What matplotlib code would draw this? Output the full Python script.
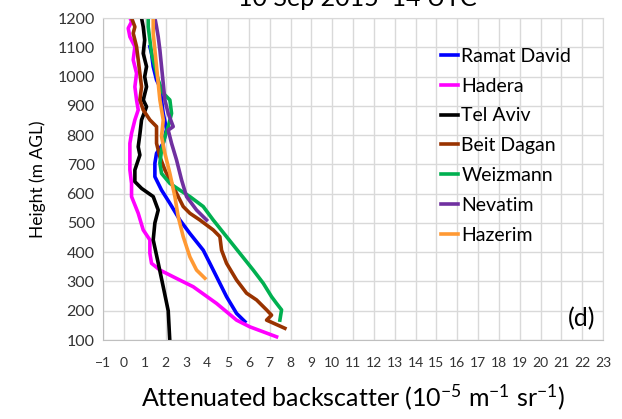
import matplotlib.pyplot as plt

plt.rcParams['font.family'] = ['Lato', 'DejaVu Sans']
plt.rcParams['mathtext.fontset'] = 'custom'
plt.rcParams['mathtext.rm'] = 'Lato'
plt.rcParams['mathtext.it'] = 'Lato'
plt.rcParams['mathtext.bf'] = 'Lato:bold'

# profiles: (backscatter, height)
ramat_x = [5.81, 5.41, 4.93, 4.53, 4.13, 3.81, 3.17, 2.69, 2.21, 1.81, 1.49, 1.49, 1.57, 1.89, 2.05,
           1.89, 1.81, 1.73, 1.57, 1.41, 1.33, 1.25]
ramat_y = [163, 191, 248, 305, 362, 407, 464, 510, 567, 612, 658, 704, 738, 772, 820,
           874, 920, 965, 988, 1034, 1079, 1102]

hadera_x = [7.33, 6.05, 5.41, 4.45, 3.33, 2.37, 1.73, 1.33, 1.25, 1.25, 0.93, 0.69, 0.37, 0.37, 0.29, 0.29,
            0.29, 0.37, 0.53, 0.69, 0.61, 0.53, 0.61, 0.45, 0.53, 0.29, 0.21, 0.37, 0.30]
hadera_y = [111, 145, 168, 225, 282, 316, 339, 362, 396, 442, 476, 533, 590, 635, 681, 726,
            772, 806, 852, 886, 920, 965, 1011, 1057, 1102, 1136, 1165, 1187, 1200]

telaviv_x = [2.2, 2.13, 1.89, 1.65, 1.41, 1.49, 1.65, 1.41, 0.85, 0.53, 0.53, 0.77, 0.69, 0.77,
             0.85, 1.09, 0.93, 1.09, 1.0, 1.09, 0.93, 1.0, 0.93, 0.85]
telaviv_y = [105, 200, 282, 363, 442, 500, 544, 590, 618, 641, 681, 732, 760, 803,
             852, 897, 920, 965, 1000, 1034, 1079, 1125, 1170, 1200]

beit_x = [7.73, 7.01, 6.85, 7.09, 6.85, 6.37, 5.89, 5.41, 4.93, 4.69, 4.61, 4.29, 3.65, 3.17, 2.85,
          2.61, 2.21, 1.97, 1.73, 1.57, 1.57, 1.25, 0.93, 0.77, 0.85, 0.77, 0.69, 0.61, 0.45, 0.53, 0.37]
beit_y = [140, 163, 168, 185, 203, 237, 260, 305, 362, 407, 453, 476, 510, 533, 556,
          590, 647, 681, 726, 772, 829, 852, 886, 920, 965, 1011, 1057, 1102, 1148, 1170, 1200]

weiz_x = [7.49, 7.57, 7.33, 7.09, 6.69, 6.21, 5.57, 4.93, 4.29, 3.81, 3.17, 2.69, 2.21, 1.81, 1.73,
          1.81, 1.97, 2.13, 2.29, 2.21, 1.89, 1.65, 1.49, 1.33, 1.25, 1.17, 1.17]
weiz_y = [168, 203, 225, 248, 294, 339, 396, 453, 510, 556, 590, 612, 635, 669, 704,
          749, 795, 829, 874, 920, 943, 988, 1034, 1079, 1125, 1170, 1200]

nevatim_x = [3.97, 3.49, 3.01, 2.77, 2.53, 2.29, 2.13, 2.37, 2.13, 1.97, 1.89, 1.81, 1.73, 1.65, 1.57, 1.49]
nevatim_y = [510, 544, 590, 647, 715, 772, 817, 829, 874, 920, 977, 1034, 1091, 1136, 1170, 1200]

hazerim_x = [3.89, 3.49, 3.17, 2.85, 2.61, 2.45, 2.21, 1.97, 1.81, 1.89, 1.73, 1.65, 1.57, 1.49, 1.41, 1.41]
hazerim_y = [311, 339, 384, 453, 521, 590, 669, 738, 795, 852, 920, 977, 1034, 1091, 1148, 1200]

x_ticks = list(range(-1, 24))
y_ticks = list(range(100, 1300, 100))

fig = plt.figure(figsize=(6.22, 4.19), dpi=100)
ax = fig.add_axes([0.1656, 0.1885, 0.8039, 0.7685])

lw = 2.6
ax.plot(ramat_x, ramat_y, color='#0000FF', lw=lw, label='Ramat David')
ax.plot(hadera_x, hadera_y, color='#FF00FF', lw=lw, label='Hadera')
ax.plot(telaviv_x, telaviv_y, color='#000000', lw=lw, label='Tel Aviv')
ax.plot(beit_x, beit_y, color='#993300', lw=lw, label='Beit Dagan')
ax.plot(weiz_x, weiz_y, color='#00B050', lw=lw, label='Weizmann')
ax.plot(nevatim_x, nevatim_y, color='#7030A0', lw=lw, label='Nevatim')
ax.plot(hazerim_x, hazerim_y, color='#FF9933', lw=lw, label='Hazerim')

ax.set_xlim(-1, 23)
ax.set_ylim(100, 1200)
ax.set_xticks(x_ticks)
ax.set_yticks(y_ticks)
ax.tick_params(axis='x', length=0, labelsize=10, pad=12, colors='#333333')
ax.tick_params(axis='y', length=0, labelsize=11.5, pad=6, colors='#333333')
ax.grid(True, color='#D9D9D9', lw=1)
ax.set_axisbelow(True)
for s in ax.spines.values():
    s.set_color('#D9D9D9')
ax.spines['left'].set_color('#BFBFBF')
ax.spines['bottom'].set_color('#BFBFBF')

ax.set_xlabel('Attenuated backscatter (10$^{-5}$ m$^{-1}$ sr$^{-1}$)', fontsize=18, labelpad=10)
ax.set_ylabel('Height (m AGL)', fontsize=12.5, labelpad=8)

fig.text(0.575, 0.985, '10 Sep 2015  14 UTC', fontsize=18, ha='center', va='baseline')

leg = ax.legend(loc='upper left', bbox_to_anchor=(0.66, 0.932), frameon=False, fontsize=14,
                handlelength=0.9, handletextpad=0.15, labelspacing=0.66, borderaxespad=0)

ax.text(0.985, 0.03, '(d)', transform=ax.transAxes, fontsize=18, ha='right', va='bottom')

fig.savefig('out.png', dpi=100)
